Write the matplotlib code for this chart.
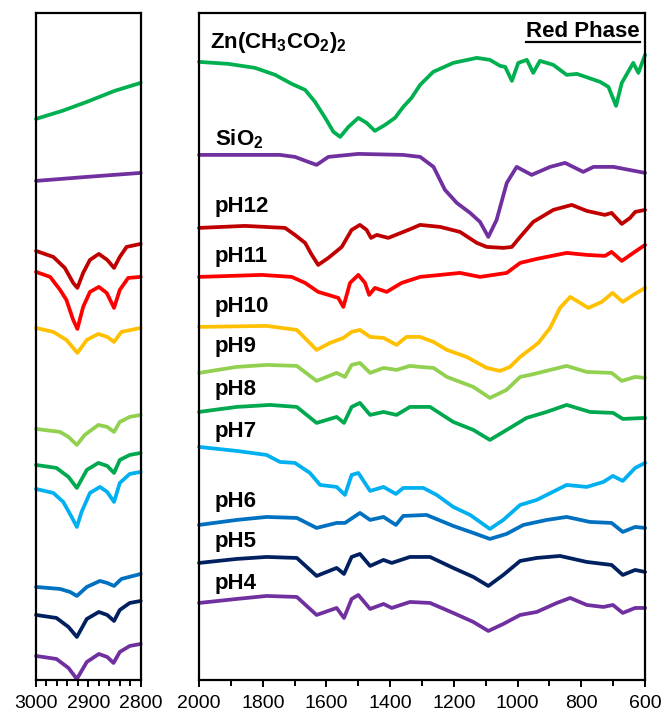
import matplotlib
matplotlib.use("Agg")
import matplotlib.pyplot as plt
from matplotlib.lines import Line2D

plt.rcParams["font.family"] = ["Liberation Sans", "DejaVu Sans"]
plt.rcParams["mathtext.default"] = "regular"

# stacked FTIR spectra, transmittance in arbitrary offset units
# C-H stretch window (3000-2800 cm-1)
zn_ch = [(3000, 561), (2950, 569), (2903, 578), (2850, 589), (2800, 597)]
sio2_ch = [(3000, 499), (2903, 503), (2800, 507)]
ph12_ch = [(3000, 429), (2967, 423), (2945, 412), (2929, 397), (2921, 392), (2910, 407), (2897, 420),
           (2880, 426), (2864, 420), (2851, 412), (2840, 423), (2827, 433), (2800, 436)]
ph11_ch = [(3000, 408), (2973, 403), (2954, 390), (2942, 380), (2929, 360), (2921, 351), (2910, 373),
           (2897, 388), (2880, 393), (2865, 387), (2851, 372), (2840, 390), (2824, 402), (2800, 403)]
ph10_ch = [(3000, 352), (2967, 348), (2942, 340), (2921, 327), (2903, 340), (2881, 346), (2864, 343),
           (2851, 338), (2837, 348), (2800, 352)]
ph9_ch = [(3000, 251), (2954, 248), (2938, 243), (2922, 235), (2907, 245), (2881, 255), (2864, 253),
          (2851, 248), (2840, 258), (2821, 263), (2800, 265)]
ph8_ch = [(3000, 215), (2961, 212), (2938, 203), (2922, 192), (2903, 210), (2881, 217), (2864, 214),
          (2851, 207), (2840, 220), (2821, 225), (2800, 227)]
ph7_ch = [(3000, 191), (2967, 187), (2948, 178), (2932, 163), (2922, 153), (2913, 168), (2897, 187),
          (2878, 193), (2864, 188), (2851, 178), (2840, 197), (2821, 206), (2800, 208)]
ph6_ch = [(3000, 93), (2954, 91), (2935, 88), (2922, 84), (2903, 93), (2878, 99), (2864, 97),
          (2851, 94), (2837, 101), (2800, 106)]
ph5_ch = [(3000, 65), (2961, 62), (2938, 53), (2922, 43), (2903, 61), (2880, 68), (2864, 65),
          (2851, 59), (2840, 70), (2821, 77), (2800, 79)]
ph4_ch = [(3000, 24), (2961, 21), (2938, 12), (2922, 1), (2903, 18), (2880, 26), (2864, 23),
          (2852, 17), (2840, 28), (2821, 34), (2800, 36)]

# fingerprint window (2000-600 cm-1)
zn_fp = [(2000, 618), (1908, 616), (1824, 612), (1761, 605), (1709, 596), (1667, 590), (1636, 578),
         (1604, 562), (1578, 548), (1557, 543), (1531, 553), (1500, 562), (1474, 557), (1448, 549),
         (1416, 555), (1385, 562), (1359, 573), (1333, 582), (1306, 595), (1265, 608), (1202, 617),
         (1128, 622), (1087, 620), (1055, 614), (1039, 613), (1018, 599), (998, 617), (971, 620),
         (951, 607), (930, 619), (888, 615), (846, 605), (814, 606), (741, 598), (715, 593),
         (691, 574), (673, 597), (637, 617), (621, 607), (600, 625)]
sio2_fp = [(2000, 525), (1882, 525), (1746, 525), (1699, 523), (1657, 518), (1631, 515), (1594, 523),
           (1500, 526), (1360, 525), (1306, 523), (1264, 513), (1228, 490), (1191, 477), (1149, 467),
           (1118, 458), (1092, 443), (1066, 460), (1034, 497), (1003, 513), (956, 505), (898, 513),
           (851, 517), (794, 508), (762, 513), (699, 513), (600, 507)]
ph12_fp = [(2000, 452), (1856, 454), (1730, 452), (1699, 445), (1667, 437), (1646, 425), (1626, 415),
           (1594, 422), (1552, 433), (1521, 450), (1495, 455), (1474, 450), (1460, 442), (1442, 445),
           (1406, 442), (1343, 450), (1306, 455), (1243, 453), (1181, 448), (1128, 437), (1097, 433),
           (1045, 432), (1018, 433), (992, 443), (951, 458), (888, 470), (830, 475), (783, 469),
           (726, 465), (705, 467), (673, 456), (647, 462), (631, 468), (600, 470)]
ph11_fp = [(2000, 403), (1803, 405), (1709, 403), (1667, 397), (1626, 388), (1594, 385), (1563, 382),
           (1547, 373), (1526, 397), (1500, 405), (1479, 397), (1466, 385), (1448, 392), (1411, 388),
           (1364, 397), (1306, 403), (1243, 405), (1181, 407), (1118, 403), (1034, 407), (992, 417),
           (940, 421), (846, 427), (783, 425), (726, 424), (705, 428), (673, 419), (637, 427),
           (600, 435)]
ph10_fp = [(2000, 353), (1788, 354), (1693, 350), (1662, 340), (1631, 330), (1589, 337), (1547, 342),
           (1521, 348), (1495, 350), (1463, 343), (1421, 342), (1380, 335), (1349, 343), (1306, 343),
           (1264, 338), (1222, 330), (1160, 323), (1097, 312), (1055, 309), (1024, 313), (992, 323),
           (935, 337), (898, 352), (867, 372), (835, 383), (809, 378), (778, 372), (736, 378),
           (702, 387), (670, 378), (637, 385), (600, 392)]
ph9_fp = [(2000, 307), (1882, 313), (1788, 315), (1693, 314), (1631, 299), (1568, 307), (1542, 303),
          (1521, 315), (1495, 317), (1463, 307), (1421, 312), (1380, 310), (1338, 314), (1306, 313),
          (1264, 312), (1222, 303), (1139, 293), (1087, 282), (1035, 290), (992, 303), (961, 305),
          (846, 314), (783, 308), (705, 307), (673, 299), (631, 303), (600, 302)]
ph8_fp = [(2000, 268), (1882, 273), (1777, 275), (1693, 273), (1631, 257), (1568, 263), (1545, 257),
          (1521, 273), (1495, 277), (1463, 265), (1421, 268), (1380, 265), (1338, 273), (1275, 273),
          (1202, 258), (1139, 250), (1087, 240), (1024, 252), (972, 262), (909, 268), (846, 275),
          (773, 268), (700, 267), (670, 261), (600, 262)]
ph7_fp = [(2000, 233), (1882, 229), (1788, 225), (1746, 218), (1699, 217), (1652, 207), (1620, 195),
          (1568, 193), (1542, 185), (1521, 205), (1500, 207), (1463, 189), (1421, 193), (1382, 186),
          (1359, 192), (1296, 192), (1254, 185), (1202, 173), (1149, 165), (1087, 151), (1045, 160),
          (992, 175), (940, 180), (846, 195), (783, 193), (731, 198), (701, 204), (670, 199),
          (631, 212), (600, 217)]
ph6_fp = [(2000, 155), (1882, 160), (1788, 163), (1693, 162), (1631, 152), (1568, 157), (1542, 157),
          (1495, 167), (1463, 160), (1421, 163), (1382, 155), (1359, 164), (1286, 165), (1202, 154),
          (1139, 147), (1087, 141), (1035, 146), (982, 155), (909, 160), (846, 163), (773, 158),
          (705, 157), (670, 148), (631, 153), (600, 152)]
ph5_fp = [(2000, 117), (1882, 121), (1788, 123), (1693, 122), (1631, 104), (1568, 112), (1545, 106),
          (1521, 123), (1495, 126), (1463, 114), (1421, 120), (1395, 117), (1338, 123), (1275, 123),
          (1202, 112), (1139, 103), (1092, 94), (1045, 105), (992, 119), (940, 122), (867, 124),
          (783, 118), (705, 115), (670, 105), (631, 110), (600, 108)]
ph4_fp = [(2000, 77), (1882, 81), (1788, 84), (1693, 83), (1631, 65), (1568, 72), (1545, 62),
          (1521, 81), (1500, 85), (1463, 71), (1421, 76), (1395, 72), (1338, 78), (1275, 77),
          (1202, 67), (1139, 58), (1092, 49), (1045, 56), (992, 65), (940, 68), (877, 77),
          (835, 82), (783, 75), (731, 73), (701, 75), (670, 67), (631, 72), (600, 72)]

labels = ["Zn(CH$_3$CO$_2$)$_2$", "SiO$_2$", "pH12", "pH11", "pH10", "pH9", "pH8", "pH7", "pH6", "pH5", "pH4"]
label_y = [637, 541, 473, 423, 373, 333, 290, 248, 178, 138, 96]
colors = ["#00B050", "#7030A0", "#C00000", "#FF0000", "#FFC000", "#92D050",
          "#00A84F", "#00B0F0", "#0070C0", "#002060", "#7030A0"]
ch_data = [zn_ch, sio2_ch, ph12_ch, ph11_ch, ph10_ch, ph9_ch, ph8_ch, ph7_ch, ph6_ch, ph5_ch, ph4_ch]
fp_data = [zn_fp, sio2_fp, ph12_fp, ph11_fp, ph10_fp, ph9_fp, ph8_fp, ph7_fp, ph6_fp, ph5_fp, ph4_fp]

fig = plt.figure(figsize=(6.67, 7.15), dpi=100)
ax_ch = fig.add_axes([0.054, 0.049, 0.157, 0.933])
ax_fp = fig.add_axes([0.2984, 0.049, 0.6687, 0.933])

for ch, fp, color in zip(ch_data, fp_data, colors):
    x, y = zip(*ch)
    ax_ch.plot(x, y, color=color, lw=2.7, solid_joinstyle="round", solid_capstyle="round", clip_on=False)
    x, y = zip(*fp)
    ax_fp.plot(x, y, color=color, lw=2.7, solid_joinstyle="round", solid_capstyle="round", clip_on=False)

for text, y in zip(labels, label_y):
    x = 1965 if text.startswith("Zn") else 1950
    ax_fp.text(x, y, text, fontsize=16, fontweight="bold", ha="left", va="center")

title = ax_fp.text(616, 648, "Red Phase", fontsize=16, fontweight="bold", ha="right", va="center")

ax_ch.set_xlim(3000, 2800)
ax_ch.set_xticks([3000, 2900, 2800])
ax_ch.set_xticks(range(2800, 3001, 20), minor=True)
ax_fp.set_xlim(2000, 600)
ax_fp.set_xticks(range(600, 2001, 200))
ax_fp.set_xticks(range(600, 2001, 100), minor=True)

for ax in (ax_ch, ax_fp):
    ax.set_ylim(0, 667)
    ax.set_yticks([])
    for spine in ax.spines.values():
        spine.set_linewidth(1.6)
    ax.tick_params(axis="x", which="major", direction="out", length=5, width=1.4, labelsize=14, pad=6)
    ax.tick_params(axis="x", which="minor", direction="out", length=4, width=1.4)

# underline for the phase title
fig.canvas.draw()
bb = title.get_window_extent().transformed(fig.transFigure.inverted())
fig.add_artist(Line2D([bb.x0, bb.x1], [bb.y0 + 0.001, bb.y0 + 0.001], color="black", lw=1.6,
                      transform=fig.transFigure))

fig.savefig("out.png", dpi=100)
